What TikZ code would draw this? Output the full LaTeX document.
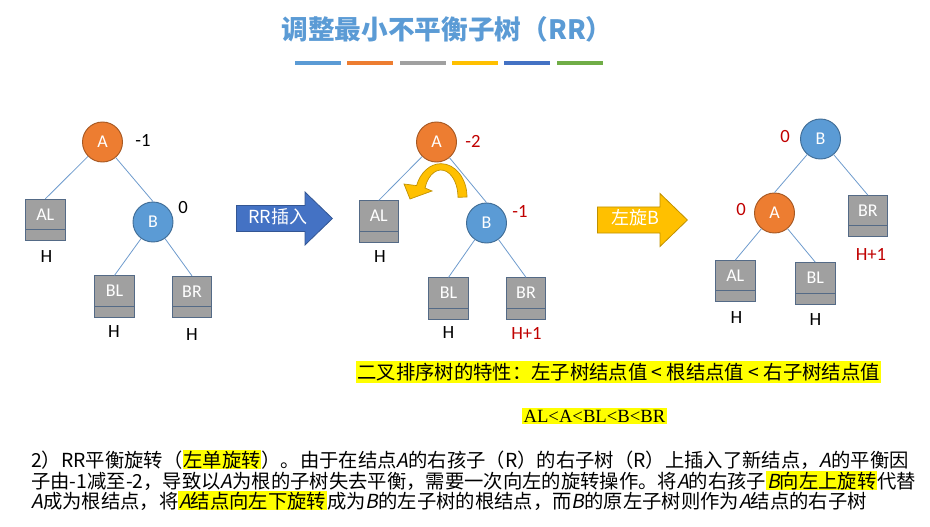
\documentclass[tikz,border=0pt]{standalone}
\usepackage{fontspec}
\usepackage{xcolor}
\usetikzlibrary{shapes.arrows}
\newfontfamily\cjk[AutoFakeSlant=0.2]{Noto Sans CJK SC}
\newfontfamily\cali{Carlito}
\newfontfamily\tms{Liberation Serif}
\definecolor{titleblue}{RGB}{91,155,213}
\definecolor{aorange}{RGB}{237,125,49}
\definecolor{bblue}{RGB}{91,155,213}
\definecolor{boxgray}{RGB}{160,160,160}
\definecolor{boxedge}{RGB}{84,106,134}
\definecolor{edgeblue}{RGB}{110,155,205}
\definecolor{arrowblue}{RGB}{68,114,196}
\definecolor{gold}{RGB}{255,192,0}
\definecolor{darkred}{RGB}{192,0,0}
\definecolor{hlyellow}{RGB}{255,255,0}
\definecolor{bargreen}{RGB}{112,173,71}
\newcommand\hly[1]{{\setlength{\fboxsep}{0.6pt}\colorbox{hlyellow}{\vphantom{结}#1}}}

\begin{document}
\begin{tikzpicture}[x=0.75pt,y=-0.75pt]
\tikzset{circ/.style = {shape=circle,draw=#1!70!black,fill=#1,line width=0.7pt,minimum size=30pt,inner sep=0pt,text=white,font=\cali\fontsize{13.5}{13.5}\selectfont},
  sub/.style = {rectangle,draw=boxedge,fill=boxgray,line width=0.7pt,minimum width=29.5pt,minimum height=31pt,inner sep=0pt,text=white,text height=8.5pt,text depth=8.5pt,font=\cali\fontsize{13.5}{13.5}\selectfont,
    path picture={\draw[boxedge,line width=0.7pt] ([yshift=8.25pt]path picture bounding box.south west) -- ([yshift=8.25pt]path picture bounding box.south east);}},
  bal/.style = {font=\cali\fontsize{14}{14}\selectfont},
  edge/.style = {draw=edgeblue,line width=0.6pt},
  bigarrow/.style = {single arrow,draw=#1!75!black,fill=#1,line width=0.6pt,text=white,font=\cjk\fontsize{13.5}{13.5}\selectfont,
    single arrow head extend=10pt,single arrow tip angle=88,inner xsep=2pt,inner ysep=3pt,text height=10pt,text depth=3pt,anchor=tail},
  hl/.style = {fill=hlyellow,inner xsep=1pt,inner ysep=1.5pt}}
\useasboundingbox (0,0) rectangle (930,527);
% title
\node[text=titleblue,font=\cjk\bfseries\fontsize{20}{20}\selectfont] (title) at (447,29) {调整最小不平衡子树（RR）};
\foreach \c [count=\i from 0] in {titleblue,aorange,boxgray,gold,arrowblue,bargreen} {
    \fill[\c] ({295+\i*52.3},61) rectangle +(46,4);
}
% vertices
\foreach \name/\x/\y/\c/\txt in {A1/102.5/142/aorange/A,B1/153/222/bblue/B,A2/436.5/142/aorange/A,B2/486.5/223/bblue/B,B3/820.5/139/bblue/B,A3/774.5/213/aorange/A} {
    \node[circ=\c] (\name) at (\x,\y) {\txt};
}
\foreach \name/\x/\y/\txt in {AL1/45.3/220/AL,BL1/114.5/296.5/BL,BR1/192/297/BR,AL2/378.8/221.5/AL,BL2/448.5/298.5/BL,BR2/526/298.5/BR,BR3/867.8/216.2/BR,AL3/735.3/281.2/AL,BL3/815.3/283.3/BL} {
    \node[sub] (\name) at (\x,\y) {\txt};
}
% edges
\foreach \i/\j in {A1/AL1,A1/B1,B1/BL1,B1/BR1,A2/AL2,A2/B2,B2/BL2,B2/BR2,B3/A3,B3/BR3,A3/AL3,A3/BL3} {
    \draw[edge] (\i) -- (\j.north);
}
% balance factors and heights
\foreach \name/\x/\y/\c/\txt in {fA1/143/140/black/-1,fB1/183/208/black/0,fA2/473/141/darkred/-2,fB2/520/211/darkred/-1,fB3/785/137/darkred/0,fA3/741/210/darkred/0} {
    \node[bal,text=\c] (\name) at (\x,\y) {\txt};
}
\foreach \name/\x/\y/\c/\txt in {hAL1/46.5/257/black/H,hBL1/114/332/black/H,hBR1/192/335/black/H,hAL2/380/257/black/H,hBL2/448.5/333/black/H,hBR2/526.5/333/darkred/H+1,hBR3/871/254/darkred/H+1,hAL3/736.5/318/black/H,hBL3/815.5/320/black/H} {
    \node[bal,text=\c] (\name) at (\x,\y) {\txt};
}
% rotation arrow
\filldraw[draw=gold!75!black,fill=gold,line width=0.5pt] (467,197) arc[start angle=0,end angle=160,x radius=19.5pt,y radius=25pt]
    -- (404,184) -- (410,199) -- (432,191) -- (425,188) arc[start angle=160,end angle=0,x radius=12.75pt,y radius=20.5pt] -- cycle;
% big arrows
\node[bigarrow=arrowblue,minimum height=72pt] (ins) at (236,218.5) {RR插入};
\node[bigarrow=gold,minimum height=67.5pt] (rot) at (597,220) {左旋B};
% notes
\node[hl,anchor=west,font=\cjk\fontsize{14.5}{14.5}\selectfont] (prop) at (356,372) {二叉排序树的特性：左子树结点值 < 根结点值 < 右子树结点值};
\node[hl,anchor=west,font=\tms\fontsize{14}{14}\selectfont] (order) at (522,416) {AL<A<BL<B<BR};
\node[anchor=base west,inner sep=0pt,font=\cjk\fontsize{14.5}{14.5}\selectfont] (l1) at (31,467) {2）RR平衡旋转（\hly{左单旋转}）。由于在结点\textit{A}的右孩子（R）的右子树（R）上插入了新结点，\textit{A}的平衡因};
\node[anchor=base west,inner sep=0pt,font=\cjk\fontsize{14.5}{14.5}\selectfont] (l2) at (31,488) {子由-1减至-2，导致以\textit{A}为根的子树失去平衡，需要一次向左的旋转操作。将\textit{A}的右孩子\hly{\textit{B}向左上旋转}代替};
\node[anchor=base west,inner sep=0pt,font=\cjk\fontsize{14.5}{14.5}\selectfont] (l3) at (31,508) {\textit{A}成为根结点，将\hly{\textit{A}结点向左下旋转}成为\textit{B}的左子树的根结点，而\textit{B}的原左子树则作为\textit{A}结点的右子树};
\end{tikzpicture}
\end{document}
